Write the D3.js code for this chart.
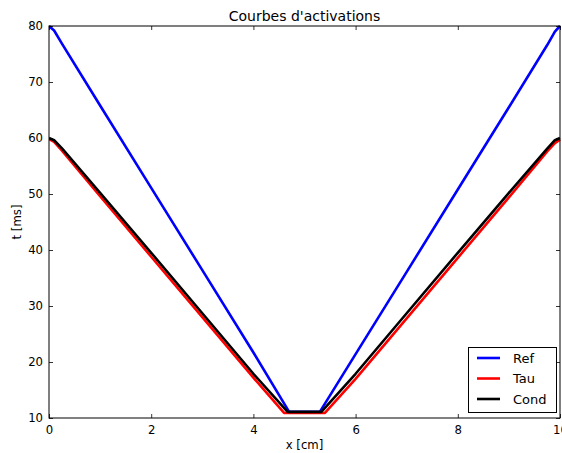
<!DOCTYPE html>
<html><head><meta charset="utf-8">
<script src="https://cdn.jsdelivr.net/npm/d3@7"></script>
<style>
html,body{margin:0;padding:0;background:#fff;}
svg{display:block;font-family:"DejaVu Sans",sans-serif;}
</style></head>
<body>
<script>
// ---- data ----
const title = "Courbes d'activations";
const xLabel = "x [cm]";
const yLabel = "t [ms]";
const xTicks = [0, 2, 4, 6, 8, 10];
const yTicks = [10, 20, 30, 40, 50, 60, 70, 80];

const refX = [0, 0.1, 0.25, 1, 2, 3, 4, 4.7, 5.3, 6, 7, 8, 9, 9.75, 9.9, 10];
const refT = [80, 79.2, 76.9, 65.8, 51.1, 36.4, 21.7, 11.1, 11.1, 21.4, 36.1, 50.8, 65.5, 76.6, 79.0, 80];

const tauX = [0, 0.1, 0.25, 1, 2, 3, 4, 4.6, 5.4, 6, 7, 8, 9, 9.75, 9.9, 10];
const tauT = [59.8, 59.3, 57.8, 49.6, 38.8, 28.0, 17.2, 10.9, 10.9, 17.0, 27.8, 38.6, 49.4, 57.6, 59.1, 59.7];

const condX = [0, 0.1, 0.25, 1, 2, 3, 4, 4.67, 5.33, 6, 7, 8, 9, 9.75, 9.9, 10];
const condT = [60, 59.6, 58.2, 50.2, 39.5, 28.7, 17.9, 11.1, 11.1, 17.9, 28.7, 39.5, 50.2, 58.1, 59.6, 60];

const seriesNames = ["Ref", "Tau", "Cond"];
const seriesColors = ["#0000ff", "#ff0000", "#000000"];

// ---- drawing ----
const W = 562, H = 453;
const L = 49, R = 560, T = 26, B = 418;

const svg = d3.select("body").append("svg").attr("width", W).attr("height", H);

const x = d3.scaleLinear().domain([0, 10]).range([L, R]);
const y = d3.scaleLinear().domain([10, 80]).range([B, T]);

const series = [
  {name: seriesNames[0], color: seriesColors[0], xs: refX, ts: refT},
  {name: seriesNames[1], color: seriesColors[1], xs: tauX, ts: tauT},
  {name: seriesNames[2], color: seriesColors[2], xs: condX, ts: condT}
];

svg.append("clipPath").attr("id", "pc").append("rect")
  .attr("x", L).attr("y", T - 2).attr("width", R - L + 2).attr("height", B - T + 2);

const line = d3.line().x(d => x(d[0])).y(d => y(d[1]));
const plot = svg.append("g").attr("clip-path", "url(#pc)");
series.forEach(s => {
  plot.append("path")
    .datum(s.xs.map((v, i) => [v, s.ts[i]]))
    .attr("d", line)
    .attr("fill", "none")
    .attr("stroke", s.color)
    .attr("stroke-width", 2.6)
    .attr("stroke-linejoin", "round");
});

// axes (classic matplotlib: inward ticks on all sides)
const fs = 11.7;
const axB = svg.append("g").attr("transform", `translate(0,${B})`)
  .call(d3.axisBottom(x).tickValues(xTicks).tickSize(-4).tickPadding(8).tickFormat(d3.format("d")));
const axT = svg.append("g").attr("transform", `translate(0,${T})`)
  .call(d3.axisTop(x).tickValues(xTicks).tickSize(-4).tickFormat(""));
const axL = svg.append("g").attr("transform", `translate(${L},0)`)
  .call(d3.axisLeft(y).tickValues(yTicks).tickSize(-4).tickPadding(6).tickFormat(d3.format("d")));
const axR = svg.append("g").attr("transform", `translate(${R},0)`)
  .call(d3.axisRight(y).tickValues(yTicks).tickSize(-4).tickFormat(""));
[axB, axT, axL, axR].forEach(g => {
  g.select(".domain").remove();
  g.selectAll("line").attr("stroke", "#000").attr("stroke-width", 0.8);
  g.selectAll("text").attr("font-family", "DejaVu Sans").attr("font-size", fs).attr("fill", "#000");
});

// frame
svg.append("rect").attr("x", L).attr("y", T).attr("width", R - L).attr("height", B - T)
  .attr("fill", "none").attr("stroke", "#000").attr("stroke-width", 1);

// title & labels
svg.append("text").attr("x", (L + R) / 2).attr("y", 21).attr("text-anchor", "middle")
  .attr("font-size", 14).text(title);
svg.append("text").attr("x", (L + R) / 2).attr("y", 449).attr("text-anchor", "middle")
  .attr("font-size", fs).text(xLabel);
svg.append("text").attr("transform", `translate(21,${(T + B) / 2}) rotate(-90)`)
  .attr("text-anchor", "middle").attr("font-size", fs).text(yLabel);

// legend
const lg = svg.append("g");
lg.append("rect").attr("x", 468.5).attr("y", 347.5).attr("width", 88).attr("height", 65)
  .attr("fill", "#fff").attr("stroke", "#000").attr("stroke-width", 1);
series.forEach((s, i) => {
  const yy = 358 + i * 20.5;
  lg.append("line").attr("x1", 477).attr("x2", 500).attr("y1", yy).attr("y2", yy)
    .attr("stroke", s.color).attr("stroke-width", 2.6);
  lg.append("text").attr("x", 513).attr("y", yy + 4.7).attr("font-size", 13).text(s.name);
});
</script>
</body></html>
